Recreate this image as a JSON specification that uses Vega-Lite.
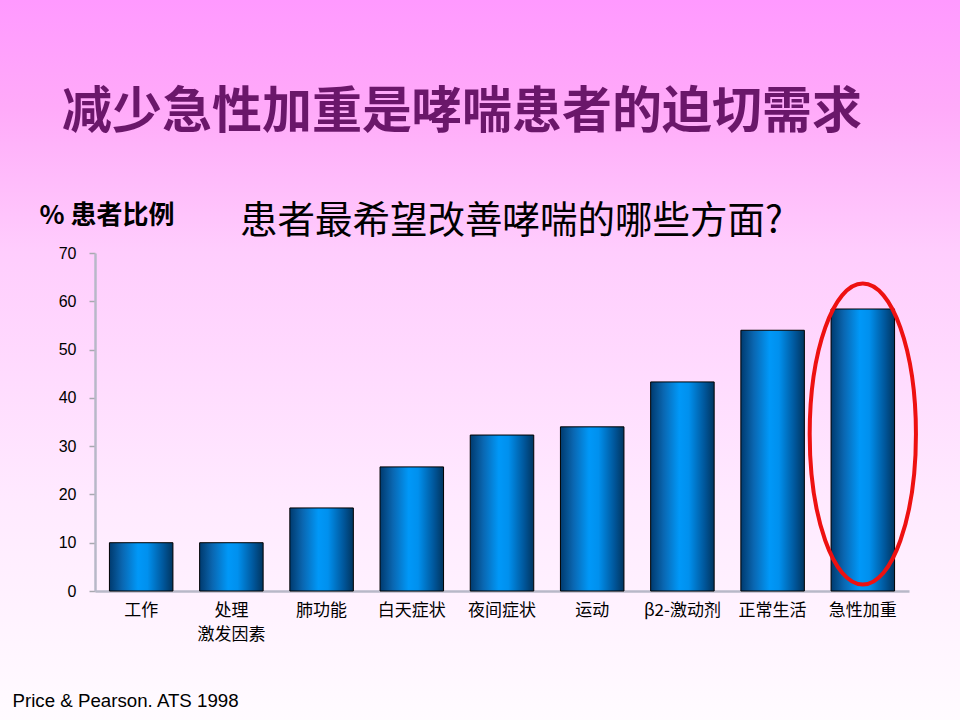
{
  "$schema": "https://vega.github.io/schema/vega-lite/v6.json",
  "width": 960,
  "height": 720,
  "autosize": "none",
  "padding": 0,
  "background": "#ffffff",
  "view": {
    "stroke": null,
    "fill": {
      "gradient": "linear",
      "x1": 0, "y1": 0, "x2": 0, "y2": 1,
      "stops": [
        {"offset": 0, "color": "#ff99ff"},
        {"offset": 0.15, "color": "#ffaaf9"},
        {"offset": 0.35, "color": "#ffcdfd"},
        {"offset": 0.7, "color": "#ffeaff"},
        {"offset": 1, "color": "#fffbff"}
      ]
    }
  },
  "title": {
    "text": "减少急性加重是哮喘患者的迫切需求",
    "anchor": "middle",
    "frame": "group",
    "offset": -138,
    "dx": -18,
    "font": "Noto Sans CJK SC",
    "fontSize": 50,
    "fontWeight": "bold",
    "color": "#6a176a"
  },
  "data": {
    "values": [
      {"item": "工作", "pct": 10},
      {"item": "处理\n激发因素", "pct": 10},
      {"item": "肺功能", "pct": 17.2},
      {"item": "白天症状", "pct": 25.7},
      {"item": "夜间症状", "pct": 32.3},
      {"item": "运动", "pct": 34},
      {"item": "β2-激动剂", "pct": 43.3},
      {"item": "正常生活", "pct": 54},
      {"item": "急性加重", "pct": 58.4}
    ]
  },
  "resolve": {"axis": {"x": "independent"}},
  "layer": [
    {
      "mark": {
        "type": "bar",
        "stroke": "#000000",
        "strokeWidth": 1,
        "color": {
          "gradient": "linear",
          "x1": 0, "y1": 0, "x2": 1, "y2": 0,
          "stops": [
            {"offset": 0, "color": "#003a6e"},
            {"offset": 0.2, "color": "#0a66b0"},
            {"offset": 0.45, "color": "#0098f8"},
            {"offset": 0.6, "color": "#0090ee"},
            {"offset": 0.85, "color": "#00569a"},
            {"offset": 1, "color": "#003560"}
          ]
        }
      },
      "encoding": {
        "x": {
          "field": "item",
          "type": "nominal",
          "sort": null,
          "scale": {"range": [95, 909], "paddingInner": 0.296, "paddingOuter": 0.16},
          "axis": {
            "orient": "bottom",
            "offset": -129,
            "ticks": false,
            "tickSize": 0,
            "domainColor": "#b8b8c8",
            "domainWidth": 2.5,
            "labelAngle": 0,
            "labelFont": "Noto Sans CJK SC",
            "labelFontSize": 17,
            "labelColor": "#000000",
            "labelPadding": 11,
            "labelLineHeight": 24,
            "labelExpr": "split(datum.label, '\\n')",
            "title": "Price & Pearson. ATS 1998",
            "titleX": 12,
            "titleY": 115,
            "titleAlign": "left",
            "titleAnchor": null,
            "titleBaseline": "alphabetic",
            "titleFont": "Liberation Sans",
            "titleFontSize": 18.7,
            "titleFontWeight": "normal",
            "titleColor": "#000000"
          }
        },
        "y": {
          "field": "pct",
          "type": "quantitative",
          "scale": {"domain": [0, 70], "range": [591, 253], "nice": false},
          "axis": {
            "orient": "left",
            "offset": -95,
            "values": [0, 10, 20, 30, 40, 50, 60, 70],
            "grid": false,
            "tickSize": 6,
            "tickColor": "#a8a8b0",
            "tickWidth": 1.5,
            "domainColor": "#b8b8c8",
            "domainWidth": 2.5,
            "labelFont": "Liberation Sans",
            "labelFontSize": 16,
            "labelColor": "#000000",
            "labelPadding": 13,
            "title": "% 患者比例",
            "titleAngle": 0,
            "titleX": -56,
            "titleY": 223,
            "titleAlign": "left",
            "titleAnchor": null,
            "titleBaseline": "alphabetic",
            "titleFont": "Noto Sans CJK SC",
            "titleFontSize": 26,
            "titleFontWeight": "bold",
            "titleColor": "#000000"
          }
        }
      }
    },
    {
      "transform": [{"filter": "datum.item == '急性加重'"}],
      "mark": {
        "type": "point",
        "shape": "M 0 -1 C 0.195 -1 0.353 -0.552 0.353 0 C 0.353 0.552 0.195 1 0 1 C -0.195 1 -0.353 0.552 -0.353 0 C -0.353 -0.552 -0.195 -1 0 -1 Z",
        "size": 90601,
        "filled": false,
        "stroke": "#ee1111",
        "strokeWidth": 4,
        "opacity": 1
      },
      "encoding": {
        "x": {
          "field": "item",
          "type": "nominal",
          "sort": null,
          "axis": {
            "orient": "top",
            "offset": 0,
            "domain": false,
            "ticks": false,
            "labels": false,
            "title": "患者最希望改善哮喘的哪些方面?",
            "titleX": 511,
            "titleY": 232,
            "titleAlign": "center",
            "titleAnchor": null,
            "titleBaseline": "alphabetic",
            "titleFont": "Noto Sans CJK SC",
            "titleFontSize": 37.5,
            "titleFontWeight": "normal",
            "titleColor": "#000000"
          }
        },
        "y": {"datum": 32.5}
      }
    }
  ]
}
